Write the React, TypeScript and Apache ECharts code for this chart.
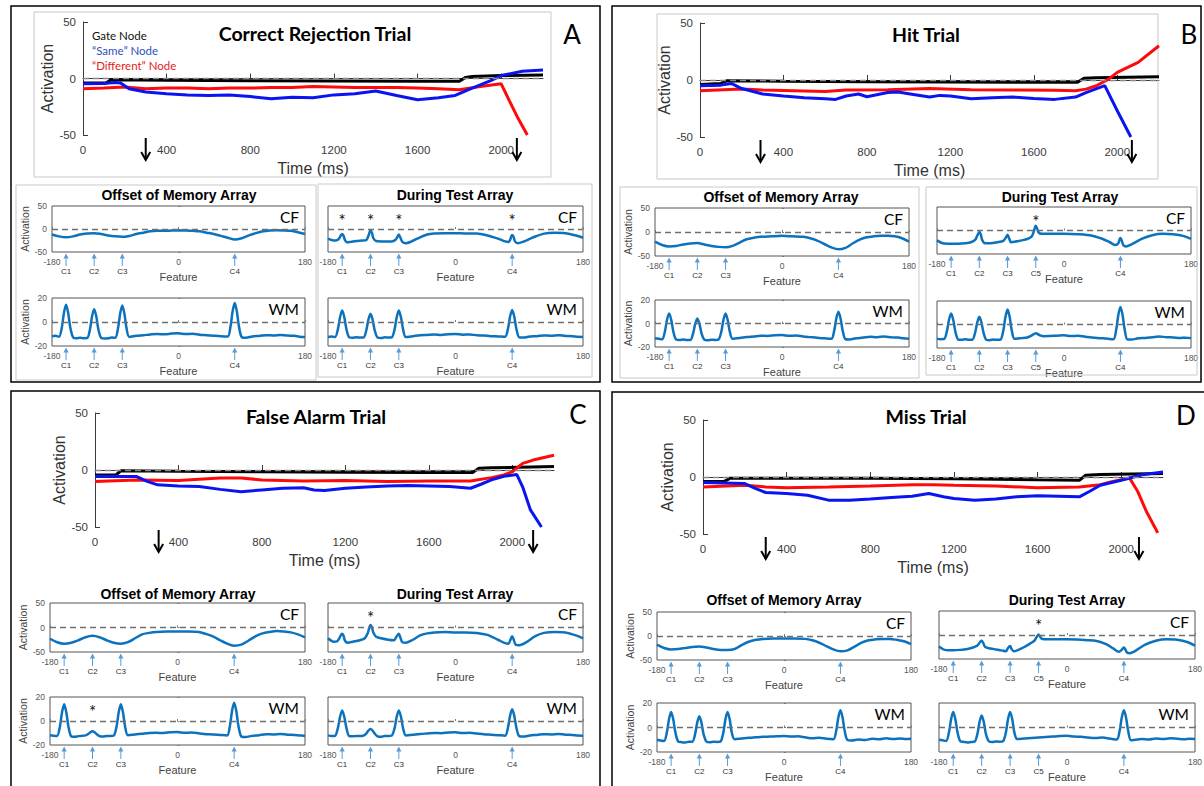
import React, { useEffect, useRef } from "react";
import * as echarts from "echarts";

type Pt = [number, number];

// ---------- Node activation time courses: [time (ms), activation] ----------
const A_GATE: Pt[] = [[0,-4],[110,-4],[135,-1],[400,-1.5],[800,-2],[1200,-2.2],[1600,-2.4],[1800,-2.4],[1830,1],[1860,1.8],[2000,2.6],[2200,3]];
const A_SAME: Pt[] = [[0,-4.7],[100,-4.5],[150,-3.5],[180,-4],[220,-9],[300,-12],[400,-13.5],[500,-14.5],[600,-15],[700,-14.5],[800,-16],[900,-18],[1000,-16.5],[1100,-17],[1200,-14.5],[1300,-13.5],[1400,-11],[1500,-15],[1600,-18.8],[1700,-17],[1780,-15],[1850,-9.5],[1950,-1.8],[2000,2.6],[2100,6.4],[2200,7.5]];
const A_DIFF: Pt[] = [[0,-9],[100,-8.5],[200,-7.5],[300,-9],[400,-8.5],[500,-8.5],[600,-9],[700,-8.5],[800,-8.5],[900,-8],[1000,-8],[1100,-7],[1200,-7.5],[1300,-8],[1400,-8],[1500,-8],[1600,-8.5],[1700,-9],[1800,-10],[1900,-7],[2000,-4.7],[2040,-20],[2080,-35],[2125,-50]];

const B_GATE: Pt[] = [[0,-4],[100,-3],[130,-0.6],[400,-1],[800,-1.5],[1200,-1.8],[1600,-2],[1810,-2],[1840,1.5],[1900,2],[2200,2.9]];
const B_SAME: Pt[] = [[0,-5],[100,-4.5],[150,-3],[200,-7.5],[300,-12.3],[400,-14],[500,-15.5],[600,-16.5],[650,-17],[700,-14],[760,-12.3],[800,-14.7],[900,-11],[950,-10.5],[1000,-12],[1100,-15],[1150,-13.5],[1200,-14],[1300,-16.5],[1400,-15.5],[1500,-15],[1600,-16.2],[1700,-17],[1800,-15],[1850,-11],[1940,-5],[2000,-27],[2065,-50]];
const B_DIFF: Pt[] = [[0,-9.4],[200,-8],[300,-8.8],[600,-10],[700,-8.8],[900,-8.5],[1100,-7.5],[1300,-8.5],[1500,-8.8],[1700,-9],[1800,-9.4],[1850,-8],[1900,-5],[1960,1],[2000,6.7],[2100,15.5],[2200,30]];

const C_GATE: Pt[] = [[0,-4.4],[100,-4.4],[125,-0.6],[400,-1],[800,-1.5],[1200,-2],[1600,-2.3],[1810,-2.3],[1840,1.5],[1900,2],[2200,3]];
const C_SAME: Pt[] = [[0,-5.8],[200,-5.8],[250,-10],[300,-13],[400,-14],[500,-14.5],[600,-17],[700,-19],[800,-17.5],[900,-16],[1000,-15.5],[1050,-17.5],[1100,-18],[1200,-16],[1300,-15],[1400,-14],[1500,-13.7],[1600,-14],[1700,-14.5],[1800,-16],[1850,-12.5],[1900,-8.7],[1960,-5.5],[2022,-4],[2050,-15],[2087,-35],[2140,-50]];
const C_DIFF: Pt[] = [[0,-10],[200,-8.7],[400,-9.3],[600,-7],[700,-7],[800,-8.7],[1000,-9.6],[1200,-9.3],[1400,-10],[1600,-9.6],[1800,-9.6],[1900,-6.7],[1960,-4.4],[2000,-1.5],[2050,5.8],[2100,8.7],[2200,13]];

const D_GATE: Pt[] = [[0,-4],[100,-4],[130,-1],[400,-1],[800,-1.2],[1200,-1.5],[1600,-2.5],[1800,-2.9],[1830,1.5],[1900,2.2],[2200,3]];
const D_SAME: Pt[] = [[0,-4.9],[200,-5.8],[250,-10],[300,-13.6],[400,-14.5],[500,-16],[600,-20.3],[700,-20.3],[800,-19.4],[900,-18],[1000,-16.8],[1080,-14.5],[1150,-17.4],[1200,-18.8],[1300,-20.3],[1400,-19.4],[1500,-17.4],[1600,-16.5],[1700,-16.8],[1800,-17.4],[1850,-12.5],[1900,-7.2],[2000,-2.9],[2100,2],[2200,4.3]];
const D_DIFF: Pt[] = [[0,-8.7],[200,-7.2],[300,-8.7],[400,-9.5],[600,-8.7],[800,-7.8],[1000,-6.7],[1100,-6.7],[1200,-7.2],[1400,-7.8],[1600,-9.5],[1800,-8.7],[1900,-6.7],[1950,-4.3],[2040,-0.9],[2080,-13],[2120,-30],[2175,-49]];

// Snapshot times marked by arrows under each time axis (ms)
const A_PROBES = [300, 2075];
const B_PROBES = [290, 2070];
const C_PROBES = [305, 2100];
const D_PROBES = [300, 2085];

// ---------- Field snapshots: [feature value (deg), activation] ----------
const A_OFF_CF: Pt[] = [[-180,-12],[-170,-16],[-160,-18],[-150,-16],[-140,-12],[-130,-10],[-120,-9],[-110,-11],[-100,-14],[-90,-16],[-80,-17],[-70,-15],[-60,-11],[-50,-8],[-40,-5],[-30,-4],[-20,-4],[-10,-3.5],[0,-3],[10,-3],[20,-4],[30,-5],[40,-8],[50,-11],[60,-15],[70,-19],[80,-23],[90,-20],[100,-14],[110,-9],[120,-5],[130,-3],[140,-2.5],[150,-3],[160,-4],[170,-7],[180,-11]];
const A_TEST_CF: Pt[] = [[-180,-21],[-172,-25],[-167,-24],[-164,-20],[-162,-14],[-160,-11],[-158,-15],[-156,-24],[-153,-29],[-148,-28],[-140,-26],[-132,-25],[-126,-24],[-123,-15],[-121,-6],[-120,-3],[-118,-8],[-116,-20],[-112,-26],[-100,-27],[-90,-27],[-85,-24],[-82,-17],[-80,-12],[-78,-18],[-75,-28],[-70,-31],[-62,-27],[-50,-18],[-40,-12],[-30,-10],[-15,-9],[0,-9],[15,-10],[30,-10],[45,-14],[60,-21],[70,-27],[75,-28],[77,-24],[79,-15],[80,-13],[82,-17],[84,-27],[88,-31],[95,-28],[110,-18],[125,-10],[140,-8],[155,-9],[170,-14],[180,-19]];
const A_OFF_WM: Pt[] = [[-180,-12],[-175,-11.5],[-170,-12.3],[-166,-4.5],[-163,7.6],[-160,14.3],[-157,7.6],[-154,-4.5],[-150,-12.8],[-145,-13.6],[-140,-13.2],[-135,-13.5],[-130,-13.4],[-126,-6.2],[-123,4.7],[-120,10.7],[-117,4.7],[-114,-6.2],[-110,-13.3],[-105,-13.8],[-100,-13.5],[-95,-13],[-90,-13.2],[-86,-5],[-83,7.1],[-80,13.8],[-77,7.1],[-74,-5],[-70,-12.4],[-60,-11.5],[-50,-11],[-40,-10.4],[-30,-10],[-20,-10.3],[-10,-9.6],[0,-9.4],[10,-10],[20,-9.8],[30,-10.6],[40,-11],[50,-11.4],[60,-11.8],[70,-12],[74,-3.7],[77,8.9],[80,15.8],[83,8.9],[86,-3.7],[90,-12.6],[96,-13.2],[105,-12],[115,-11.6],[125,-11],[135,-11.2],[145,-10.8],[155,-11.3],[165,-11.5],[172,-12.2],[180,-12.6]];
const A_TEST_WM: Pt[] = [[-180,-12.5],[-175,-12],[-170,-12.6],[-166,-5.9],[-163,4],[-160,9.5],[-157,4],[-154,-5.9],[-150,-12.8],[-145,-13.2],[-140,-12.8],[-135,-13],[-130,-13],[-126,-7.1],[-123,1.9],[-120,6.8],[-117,1.9],[-114,-7.1],[-110,-13],[-105,-13.4],[-100,-12.8],[-95,-13],[-90,-12.8],[-86,-6.1],[-83,3.9],[-80,9.5],[-77,3.9],[-74,-6.1],[-70,-12.5],[-60,-11.8],[-50,-11],[-40,-10.8],[-30,-10.5],[-20,-10.8],[-10,-10.2],[0,-10],[10,-10.6],[20,-10.4],[30,-11],[40,-11.3],[50,-11.8],[60,-12],[70,-12.3],[74,-5.8],[77,4.4],[80,10],[83,4.4],[86,-5.8],[90,-12.8],[96,-13],[105,-12],[115,-11.8],[125,-11.2],[135,-11.5],[145,-11],[155,-11.6],[165,-11.8],[172,-12.2],[180,-12.4]];

const B_OFF_CF: Pt[] = [[-180,-20],[-170,-27],[-160,-30],[-150,-29],[-140,-26],[-130,-24],[-120,-23],[-110,-26],[-100,-29],[-90,-31],[-80,-32],[-70,-29],[-60,-22],[-50,-15],[-40,-12],[-30,-10],[-15,-9],[0,-8],[15,-9],[30,-10],[40,-13],[50,-18],[60,-25],[70,-32],[80,-36],[90,-33],[100,-24],[110,-16],[120,-11],[130,-9],[140,-8],[150,-8],[160,-9],[170,-13],[180,-20]];
const B_TEST_CF: Pt[] = [[-180,-21],[-172,-27],[-160,-28],[-150,-28],[-140,-27],[-132,-25],[-126,-20],[-123,-11],[-120,-3],[-118,-8],[-116,-20],[-112,-27],[-104,-27],[-95,-25],[-86,-22],[-82,-14],[-80,-9],[-78,-16],[-75,-25],[-70,-24],[-60,-21],[-52,-18],[-46,-13],[-43,-3],[-40,10],[-38,4],[-36,-4],[-32,-7],[-20,-7],[0,-7],[20,-8],[40,-11],[55,-18],[65,-25],[73,-31],[77,-27],[79,-18],[80,-16],[82,-22],[84,-31],[88,-34],[95,-30],[110,-18],[125,-10],[140,-7],[155,-8],[170,-12],[180,-18]];
const B_OFF_WM: Pt[] = [[-180,-12.5],[-175,-13],[-170,-13.5],[-166,-6.9],[-163,3.1],[-160,8.6],[-157,3.1],[-154,-6.9],[-150,-13.6],[-145,-14],[-140,-13.6],[-135,-14],[-130,-14],[-126,-8.5],[-123,-0.3],[-120,4.3],[-117,-0.3],[-114,-8.5],[-110,-13.8],[-105,-14.2],[-100,-13.8],[-95,-14],[-90,-13.6],[-86,-6.9],[-83,3],[-80,8.6],[-77,3],[-74,-6.9],[-70,-13],[-60,-12.4],[-50,-11.5],[-40,-11],[-30,-10.4],[-20,-10.6],[-10,-10],[0,-9.8],[10,-10.5],[20,-10.2],[30,-11],[40,-11.6],[50,-12.2],[60,-12.6],[70,-13],[74,-6.1],[77,4.3],[80,10],[83,4.3],[86,-6.1],[90,-13.4],[96,-13.6],[105,-12.6],[115,-12],[125,-11.2],[135,-11.6],[145,-11],[155,-11.8],[165,-12],[172,-12.6],[180,-13]];
const B_TEST_WM: Pt[] = [[-180,-12],[-175,-12.5],[-170,-12.4],[-166,-5.9],[-163,4],[-160,9.4],[-157,4],[-154,-5.9],[-150,-12.8],[-145,-13],[-140,-12.6],[-135,-13],[-130,-13],[-126,-7.1],[-123,1.7],[-120,6.6],[-117,1.7],[-114,-7.1],[-110,-13],[-105,-13.3],[-100,-12.8],[-95,-13],[-90,-12.8],[-86,-5.1],[-83,6.4],[-80,12.8],[-77,6.4],[-74,-5.1],[-70,-12.2],[-60,-11.6],[-52,-11],[-46,-9.5],[-40,-7.4],[-34,-9.3],[-28,-10],[-20,-9.8],[-10,-9.5],[0,-9.2],[10,-9.8],[20,-9.6],[30,-10.4],[40,-11],[50,-11.6],[60,-12],[70,-12.6],[74,-4.3],[77,8.1],[80,15],[83,8.1],[86,-4.3],[90,-12.8],[96,-12.8],[105,-11.8],[115,-11.4],[125,-10.8],[135,-10.2],[145,-10.8],[155,-11],[165,-11.4],[172,-11.2],[180,-11.6]];

const C_OFF_CF: Pt[] = [[-180,-23],[-170,-30],[-160,-33],[-150,-31],[-140,-26],[-130,-20],[-120,-17],[-110,-20],[-100,-26],[-90,-31],[-80,-33],[-70,-30],[-60,-22],[-50,-14],[-40,-11],[-30,-9],[-15,-8],[0,-8],[15,-8],[30,-9],[40,-13],[50,-18],[60,-26],[70,-33],[80,-37],[90,-35],[100,-27],[110,-18],[120,-12],[130,-9],[140,-7],[150,-8],[160,-10],[170,-14],[180,-20]];
const C_TEST_CF: Pt[] = [[-180,-22],[-172,-29],[-167,-28],[-164,-22],[-162,-16],[-160,-13],[-158,-17],[-156,-27],[-152,-31],[-145,-29],[-135,-26],[-128,-22],[-124,-12],[-122,-2],[-120,5],[-118,0],[-116,-10],[-112,-19],[-105,-22],[-95,-25],[-87,-26],[-83,-18],[-80,-13],[-78,-20],[-75,-30],[-70,-31],[-60,-25],[-50,-16],[-40,-12],[-30,-10],[-15,-9],[0,-10],[15,-10],[30,-11],[45,-15],[60,-25],[70,-32],[75,-33],[77,-27],[79,-20],[80,-18],[82,-24],[85,-35],[90,-36],[100,-30],[112,-18],[125,-11],[140,-9],[155,-10],[170,-16],[180,-22]];
const C_OFF_WM: Pt[] = [[-180,-11.8],[-175,-12.2],[-170,-12.4],[-166,-4.5],[-163,7.3],[-160,13.9],[-157,7.3],[-154,-4.5],[-150,-12.8],[-145,-13.2],[-140,-12.6],[-135,-12.4],[-130,-12],[-126,-10.8],[-123,-9.4],[-120,-8.5],[-117,-9.4],[-114,-11],[-110,-12.6],[-105,-13],[-100,-12.4],[-95,-12.6],[-90,-12.2],[-86,-4.5],[-83,7.3],[-80,13.9],[-77,7.3],[-74,-4.5],[-70,-11.8],[-60,-11.2],[-50,-10.6],[-40,-10],[-30,-9.8],[-20,-10],[-10,-9.4],[0,-9.2],[10,-9.8],[20,-9.6],[30,-10.2],[40,-11],[50,-11.2],[60,-11.6],[70,-12],[74,-4],[77,8.4],[80,15.3],[83,8.4],[86,-4],[90,-12.8],[96,-13.4],[105,-12.4],[115,-11.8],[125,-11],[135,-11.2],[145,-10.8],[155,-11.4],[165,-11.6],[172,-12],[180,-12.4]];
const C_TEST_WM: Pt[] = [[-180,-12],[-175,-12.6],[-170,-12.4],[-166,-5.7],[-163,3.4],[-160,8.8],[-157,3.4],[-154,-5.7],[-150,-12.6],[-145,-12.8],[-140,-12.4],[-135,-12.6],[-130,-12.2],[-126,-10.5],[-123,-8],[-120,-6.6],[-117,-8],[-114,-10.5],[-110,-12.8],[-105,-13.2],[-100,-12.4],[-95,-12.6],[-90,-12.2],[-86,-6],[-83,3.5],[-80,8.8],[-77,3.5],[-74,-6],[-70,-12],[-60,-11.4],[-50,-10.8],[-40,-10.4],[-30,-10],[-20,-10.2],[-10,-9.6],[0,-9.4],[10,-10],[20,-9.8],[30,-10.4],[40,-11],[50,-11.4],[60,-11.8],[70,-12.2],[74,-5.6],[77,4.2],[80,9.7],[83,4.2],[86,-5.6],[90,-12.6],[96,-13],[105,-12],[115,-11.6],[125,-11],[135,-11.2],[145,-10.8],[155,-11.4],[165,-11.6],[172,-12],[180,-12.2]];

const D_OFF_CF: Pt[] = [[-180,-18],[-170,-25],[-160,-28],[-150,-27],[-140,-25],[-130,-23],[-120,-22],[-110,-24],[-100,-27],[-90,-29],[-80,-29],[-70,-27],[-60,-19],[-50,-12],[-40,-8],[-30,-6],[-15,-5],[0,-5],[15,-5],[30,-6],[40,-9],[50,-14],[60,-21],[70,-28],[80,-32],[90,-30],[100,-22],[110,-14],[120,-9],[130,-7],[140,-6],[150,-6],[160,-8],[170,-11],[180,-17]];
const D_TEST_CF: Pt[] = [[-180,-24],[-172,-31],[-160,-32],[-150,-31],[-140,-29],[-132,-26],[-126,-22],[-122,-14],[-120,-12],[-118,-16],[-115,-25],[-108,-28],[-100,-30],[-92,-32],[-86,-34],[-83,-27],[-80,-23],[-78,-29],[-75,-34],[-70,-32],[-60,-25],[-52,-18],[-46,-12],[-43,-5],[-40,1],[-38,-3],[-35,-8],[-28,-9],[-15,-9],[0,-9],[20,-10],[40,-12],[55,-19],[65,-28],[73,-35],[77,-31],[79,-27],[80,-26],[82,-30],[84,-36],[88,-38],[95,-34],[110,-20],[125,-12],[140,-9],[155,-10],[170,-15],[180,-22]];
const D_OFF_WM: Pt[] = [[-180,-10],[-175,-10.6],[-170,-11],[-166,-3.9],[-163,6.8],[-160,12.7],[-157,6.8],[-154,-3.9],[-150,-11.4],[-145,-12],[-140,-12.2],[-135,-11.6],[-130,-11.6],[-126,-5.4],[-123,4],[-120,9.2],[-117,4],[-114,-5.4],[-110,-11.4],[-105,-12],[-100,-11.6],[-95,-11.8],[-90,-11.4],[-86,-4.2],[-83,6.7],[-80,12.7],[-77,6.7],[-74,-4.2],[-70,-9.6],[-60,-9],[-50,-8.4],[-40,-8],[-30,-7.6],[-20,-7.4],[-10,-7.2],[0,-7],[10,-7.4],[20,-7.2],[30,-8],[40,-8.8],[50,-8.4],[60,-9.2],[70,-9.6],[74,-2.7],[77,8.1],[80,14],[83,8.1],[86,-2.7],[90,-10.2],[96,-10.6],[105,-9.8],[115,-10.2],[125,-9.2],[135,-9.6],[145,-8.8],[155,-9.4],[165,-9],[172,-9.4],[180,-9.2]];
const D_TEST_WM: Pt[] = [[-180,-10],[-175,-10.4],[-170,-11],[-166,-3.9],[-163,6.8],[-160,12.7],[-157,6.8],[-154,-3.9],[-150,-11.2],[-145,-11.8],[-140,-12.2],[-135,-11.8],[-130,-11.6],[-126,-5.3],[-123,4.4],[-120,9.8],[-117,4.4],[-114,-5.3],[-110,-11.2],[-105,-11.8],[-100,-11.4],[-95,-11.6],[-90,-11.2],[-86,-4.2],[-83,6.7],[-80,12.7],[-77,6.7],[-74,-4.2],[-70,-9.4],[-60,-9],[-50,-8.6],[-40,-8.2],[-30,-7.8],[-20,-7.4],[-10,-7],[0,-6.8],[10,-7.4],[20,-7.6],[30,-8.2],[40,-8.6],[50,-8.2],[60,-9],[70,-9.8],[74,-2.7],[77,8.1],[80,14],[83,8.1],[86,-2.7],[90,-10.4],[96,-10],[105,-9.4],[115,-9.8],[125,-9],[135,-9.4],[145,-8.8],[155,-9.2],[165,-9.6],[172,-9.2],[180,-9.4]];

// Cue (item) feature positions in degrees
const CUE_POS: Record<string, number> = { C1: -160, C2: -120, C3: -80, C4: 80, C5: -40 };
const CUES_STUDY = ["C1", "C2", "C3", "C4"];
const CUES_TEST = ["C1", "C2", "C3", "C5", "C4"];

const LEGEND_LABELS = ["Gate Node", "\u201cSame\u201d Node", "\u201cDifferent\u201d Node"];
const GATE_COLOR = "#000000";
const SAME_COLOR = "#0a14f0";
const DIFF_COLOR = "#ff0a0a";
const FIELD_COLOR = "#0c72bd";
const CUE_COLOR = "#5b9bd5";
const LEGEND_COLORS = ["#111111", "#2f4fbf", "#e31b1b"];

const SANS = "'Liberation Sans', Arial, sans-serif";
const CAL = "Lato, 'Noto Sans', sans-serif";

type Box = { left: number; top: number; width: number; height: number };
type Plot = { box: Box; kind: "CF" | "WM"; data: Pt[]; cues: string[]; stars: string[]; labels: boolean };
type Panel = {
  letter: string; title: string;
  border: number[]; frames: number[][];
  titlePos: number[]; letterPos: number[]; legendPos?: number[];
  main: Box; gate: Pt[]; same: Pt[]; diff: Pt[]; probes: number[];
  groupTitleY: number; groupCenters: number[];
  plots: Plot[];
};

const PANELS: Panel[] = [
  {
    letter: "A", title: "Correct Rejection Trial",
    border: [11, 6, 589, 376], frames: [[34, 12, 517, 165], [16, 185, 300, 195], [318, 184, 274, 193]],
    titlePos: [315, 33], letterPos: [572, 34], legendPos: [92, 35],
    main: { left: 83, top: 22, width: 460, height: 113 },
    gate: A_GATE, same: A_SAME, diff: A_DIFF, probes: A_PROBES,
    groupTitleY: 195, groupCenters: [179, 455],
    plots: [
      { box: { left: 52, top: 206, width: 253, height: 46 }, kind: "CF", data: A_OFF_CF, cues: CUES_STUDY, stars: [], labels: true },
      { box: { left: 328, top: 206, width: 255, height: 46 }, kind: "CF", data: A_TEST_CF, cues: CUES_STUDY, stars: ["C1", "C2", "C3", "C4"], labels: false },
      { box: { left: 52, top: 298, width: 253, height: 48 }, kind: "WM", data: A_OFF_WM, cues: CUES_STUDY, stars: [], labels: true },
      { box: { left: 328, top: 298, width: 255, height: 48 }, kind: "WM", data: A_TEST_WM, cues: CUES_STUDY, stars: [], labels: false },
    ],
  },
  {
    letter: "B", title: "Hit Trial",
    border: [612, 6, 589, 376], frames: [[657, 14, 501, 165], [620, 187, 299, 191], [926, 187, 271, 188]],
    titlePos: [926, 34], letterPos: [1189, 34],
    main: { left: 700, top: 23, width: 459, height: 114 },
    gate: B_GATE, same: B_SAME, diff: B_DIFF, probes: B_PROBES,
    groupTitleY: 197, groupCenters: [781, 1060],
    plots: [
      { box: { left: 655, top: 208, width: 254, height: 48 }, kind: "CF", data: B_OFF_CF, cues: CUES_STUDY, stars: [], labels: true },
      { box: { left: 937, top: 207, width: 254, height: 47 }, kind: "CF", data: B_TEST_CF, cues: CUES_TEST, stars: ["C5"], labels: false },
      { box: { left: 655, top: 300, width: 254, height: 47 }, kind: "WM", data: B_OFF_WM, cues: CUES_STUDY, stars: [], labels: true },
      { box: { left: 937, top: 301, width: 254, height: 47 }, kind: "WM", data: B_TEST_WM, cues: CUES_TEST, stars: [], labels: false },
    ],
  },
  {
    letter: "C", title: "False Alarm Trial",
    border: [11, 391, 589, 420], frames: [],
    titlePos: [316, 416], letterPos: [578, 414],
    main: { left: 95, top: 413, width: 459, height: 114 },
    gate: C_GATE, same: C_SAME, diff: C_DIFF, probes: C_PROBES,
    groupTitleY: 594, groupCenters: [178, 455],
    plots: [
      { box: { left: 50, top: 603, width: 255, height: 49 }, kind: "CF", data: C_OFF_CF, cues: CUES_STUDY, stars: [], labels: true },
      { box: { left: 328, top: 603, width: 255, height: 49 }, kind: "CF", data: C_TEST_CF, cues: CUES_STUDY, stars: ["C2"], labels: false },
      { box: { left: 50, top: 697, width: 255, height: 48 }, kind: "WM", data: C_OFF_WM, cues: CUES_STUDY, stars: ["C2"], labels: true },
      { box: { left: 328, top: 697, width: 255, height: 48 }, kind: "WM", data: C_TEST_WM, cues: CUES_STUDY, stars: [], labels: false },
    ],
  },
  {
    letter: "D", title: "Miss Trial",
    border: [612, 392, 620, 420], frames: [],
    titlePos: [926, 416], letterPos: [1186, 415],
    main: { left: 703, top: 420, width: 460, height: 114 },
    gate: D_GATE, same: D_SAME, diff: D_DIFF, probes: D_PROBES,
    groupTitleY: 600, groupCenters: [784, 1067],
    plots: [
      { box: { left: 657, top: 612, width: 254, height: 48 }, kind: "CF", data: D_OFF_CF, cues: CUES_STUDY, stars: [], labels: true },
      { box: { left: 939, top: 611, width: 256, height: 48 }, kind: "CF", data: D_TEST_CF, cues: CUES_TEST, stars: ["C5"], labels: false },
      { box: { left: 657, top: 703, width: 254, height: 49 }, kind: "WM", data: D_OFF_WM, cues: CUES_STUDY, stars: [], labels: true },
      { box: { left: 939, top: 703, width: 256, height: 49 }, kind: "WM", data: D_TEST_WM, cues: CUES_TEST, stars: [], labels: false },
    ],
  },
];

const zeroLine = (color: string) => ({
  silent: true,
  symbol: ["none", "none"],
  label: { show: false },
  lineStyle: { color, type: [6, 4], width: 1.3 },
  data: [{ yAxis: 0 }],
});

const plainNumber = (v: number) => String(v);

export default function App() {
  const ref = useRef<HTMLDivElement>(null);

  useEffect(() => {
    const el = ref.current;
    if (!el) return;
    const chart = echarts.init(el, null, { renderer: "svg" });

    const grids: any[] = [];
    const xAxes: any[] = [];
    const yAxes: any[] = [];
    const series: any[] = [];

    // Time-course charts
    PANELS.forEach((p, i) => {
      grids.push({ ...p.main, show: false, outerBoundsMode: "none" });
      xAxes.push({
        type: "value", gridIndex: i, min: 0, max: 2200, interval: 400,
        axisLine: { show: true, lineStyle: { color: "#3a3a3a", width: 1 } },
        axisTick: { show: true, inside: true, length: 5, lineStyle: { color: "#3a3a3a" } },
        axisLabel: { fontSize: 11.5, color: "#3a3a3a", fontFamily: SANS, margin: 9, showMaxLabel: false, formatter: plainNumber },
        splitLine: { show: false },
        name: "Time (ms)", nameLocation: "middle", nameGap: 25,
        nameTextStyle: { fontSize: 16, color: "#333", fontFamily: SANS },
      });
      yAxes.push({
        type: "value", gridIndex: i, min: -50, max: 50, interval: 50,
        axisLine: { show: true, lineStyle: { color: "#3a3a3a", width: 1 } },
        axisTick: { show: true, inside: true, length: 5, lineStyle: { color: "#3a3a3a" } },
        axisLabel: { fontSize: 11.5, color: "#3a3a3a", fontFamily: SANS, margin: 7, formatter: plainNumber },
        splitLine: { show: false },
        name: "Activation", nameLocation: "middle", nameGap: 25,
        nameTextStyle: { fontSize: 16, color: "#333", fontFamily: SANS },
      });
      const ln = (data: Pt[], color: string, zero: boolean) => ({
        type: "line", xAxisIndex: i, yAxisIndex: i, data, showSymbol: false, symbol: "none", silent: true,
        lineStyle: { color, width: 3 }, itemStyle: { color },
        ...(zero ? { markLine: zeroLine("#8a8a8a") } : {}),
      });
      series.push(ln(p.gate, GATE_COLOR, true), ln(p.diff, DIFF_COLOR, false), ln(p.same, SAME_COLOR, false));
    });

    // Field snapshots
    PANELS.forEach((p, pi) => {
      p.plots.forEach((pl, k) => {
        const gi = 4 + pi * 4 + k;
        const lim = pl.kind === "CF" ? 50 : 20;
        grids.push({ ...pl.box, show: true, borderColor: "#555", borderWidth: 1, backgroundColor: "transparent", outerBoundsMode: "none" });
        xAxes.push({
          type: "value", gridIndex: gi, min: -180, max: 180, interval: 180,
          axisLine: { show: false },
          axisTick: { show: true, inside: true, length: 2, lineStyle: { color: "#777" } },
          axisLabel: { fontSize: 8.5, color: "#555", fontFamily: SANS, margin: 5, formatter: plainNumber },
          splitLine: { show: false },
          name: "Feature", nameLocation: "middle", nameGap: 19,
          nameTextStyle: { fontSize: 11, color: "#444", fontFamily: SANS },
        });
        yAxes.push({
          type: "value", gridIndex: gi, min: -lim, max: lim, interval: lim,
          axisLine: { show: false },
          axisTick: { show: pl.labels, inside: true, length: 2, lineStyle: { color: "#777" } },
          axisLabel: { show: pl.labels, fontSize: 8.5, color: "#555", fontFamily: SANS, margin: 5 },
          splitLine: { show: false },
          ...(pl.labels
            ? { name: "Activation", nameLocation: "middle", nameGap: 19, nameTextStyle: { fontSize: 10.5, color: "#444", fontFamily: SANS } }
            : {}),
        });
        series.push({
          type: "line", xAxisIndex: gi, yAxisIndex: gi, data: pl.data, showSymbol: false, symbol: "none", silent: true,
          smooth: 0.3, lineStyle: { color: FIELD_COLOR, width: 2.5 }, itemStyle: { color: FIELD_COLOR },
          markLine: zeroLine("#6f6f6f"),
        });
      });
    });

    chart.setOption({
      animation: false,
      backgroundColor: "#ffffff",
      grid: grids,
      xAxis: xAxes,
      yAxis: yAxes,
      series,
    });

    // Annotation layer: frames, titles, arrows, cue labels
    const g: any[] = [];
    const text = (x: number, y: number, t: string, o: any = {}) =>
      g.push({
        type: "text", x, y, silent: true, z: 50,
        style: {
          text: t, fill: o.fill || "#000", fontSize: o.size || 12, fontFamily: o.family || CAL,
          fontWeight: o.weight || "normal", align: o.align || "center", verticalAlign: "middle",
        },
      });
    const rect = (r: number[], stroke: string, w: number) =>
      g.push({ type: "rect", silent: true, z: 1, shape: { x: r[0], y: r[1], width: r[2], height: r[3] }, style: { fill: "none", stroke, lineWidth: w } });

    PANELS.forEach((p, pi) => {
      rect(p.border, "#000", 1.5);
      p.frames.forEach((f) => rect(f, "#c9c9c9", 1));
      text(p.titlePos[0], p.titlePos[1], p.title, { size: 19.5, weight: "bold" });
      text(p.letterPos[0], p.letterPos[1], p.letter, { size: 26 });
      if (p.legendPos) {
        LEGEND_LABELS.forEach((lab, j) =>
          text(p.legendPos![0], p.legendPos![1] + j * 15, lab, { size: 11.5, align: "left", fill: LEGEND_COLORS[j] })
        );
      }
      // probe arrows under the time axis
      const yb = chart.convertToPixel({ yAxisIndex: pi } as any, -50) as unknown as number;
      p.probes.forEach((t) => {
        const x = chart.convertToPixel({ xAxisIndex: pi } as any, t) as unknown as number;
        const y0 = yb + 3;
        const y1 = yb + 25;
        g.push({ type: "line", silent: true, z: 60, shape: { x1: x, y1: y0, x2: x, y2: y1 }, style: { stroke: "#000", lineWidth: 2 } });
        g.push({ type: "polyline", silent: true, z: 60, shape: { points: [[x - 4.5, y1 - 8], [x, y1], [x + 4.5, y1 - 8]] }, style: { stroke: "#000", lineWidth: 2, fill: "none" } });
      });
      // group titles
      text(p.groupCenters[0], p.groupTitleY, "Offset of Memory Array", { size: 14, weight: "bold", family: SANS });
      text(p.groupCenters[1], p.groupTitleY, "During Test Array", { size: 14, weight: "bold", family: SANS });

      p.plots.forEach((pl, k) => {
        const gi = 4 + pi * 4 + k;
        const b = pl.box;
        const bottom = b.top + b.height;
        text(b.left + b.width - 6, b.top + 11, pl.kind, { size: 15.5, align: "right" });
        pl.cues.forEach((c) => {
          const x = chart.convertToPixel({ xAxisIndex: gi } as any, CUE_POS[c]) as unknown as number;
          g.push({ type: "line", silent: true, z: 60, shape: { x1: x, y1: bottom + 5, x2: x, y2: bottom + 14 }, style: { stroke: CUE_COLOR, lineWidth: 1 } });
          g.push({ type: "polygon", silent: true, z: 60, shape: { points: [[x, bottom + 1.5], [x - 2.6, bottom + 6.5], [x + 2.6, bottom + 6.5]] }, style: { fill: CUE_COLOR } });
          text(x, bottom + 19.5, c, { size: 8, family: SANS, fill: "#333" });
        });
        pl.stars.forEach((c) => {
          const x = chart.convertToPixel({ xAxisIndex: gi } as any, CUE_POS[c]) as unknown as number;
          text(x, b.top + 14, "*", { size: 17, fill: "#111" });
        });
      });
    });

    chart.setOption({ graphic: g });

    return () => chart.dispose();
  }, []);

  return (
    <div
      ref={ref}
      style={{ position: "absolute", left: 0, top: 0, width: 1204, height: 786, background: "#fff" }}
    />
  );
}
